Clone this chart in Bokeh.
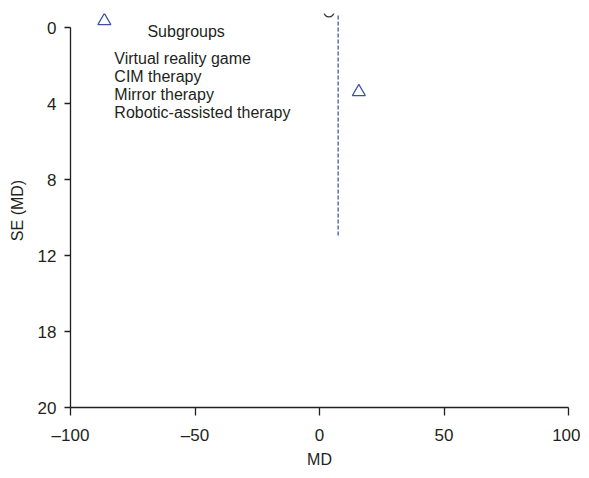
from bokeh.plotting import figure
from bokeh.models import Range1d, FixedTicker, Label, ColumnDataSource
from bokeh.embed import file_html
from bokeh.resources import INLINE

# ---- data ----
study_md = [-86.4, 15.8]
study_se = [-0.35, 3.39]
pooled_md = 3.8
pooled_se = -0.82
summary_md = 7.5
summary_se_top = -0.63
summary_se_bottom = 11.05
legend_title = "Subgroups"
subgroups = ["Virtual reality game", "CIM therapy", "Mirror therapy", "Robotic-assisted therapy"]
x_ticks = [-100, -50, 0, 50, 100]
x_tick_labels = ["\u2013100", "\u201350", "0", "50", "100"]
y_ticks = [0, 4, 8, 12, 16, 20]
y_tick_labels = ["0", "4", "8", "12", "18", "20"]

FONT = "Liberation Sans"
TXT = "#231f20"
BLUE = "#3d4fa6"

p = figure(width=580, height=470, output_backend="svg", toolbar_location=None,
           x_range=Range1d(-100, 100), y_range=Range1d(20, -0.737),
           min_border_left=70, min_border_right=12, min_border_top=13, min_border_bottom=63)
p.frame_width = 498
p.frame_height = 394
p.grid.visible = False
p.outline_line_color = None
p.background_fill_color = "white"
p.border_fill_color = "white"

for ax in (p.xaxis[0], p.yaxis[0]):
    ax.axis_line_color = TXT
    ax.axis_line_width = 1.3
    ax.major_tick_line_color = TXT
    ax.major_tick_line_width = 1.3
    ax.major_tick_in = 0
    ax.minor_tick_line_color = None
    ax.major_label_text_font = FONT
    ax.major_label_text_font_size = "17px"
    ax.major_label_text_color = TXT
    ax.axis_label_text_font = FONT
    ax.axis_label_text_font_size = "16px"
    ax.axis_label_text_font_style = "normal"
    ax.axis_label_text_color = TXT

p.xaxis.ticker = FixedTicker(ticks=x_ticks)
p.xaxis.major_label_overrides = {t: l for t, l in zip(x_ticks, x_tick_labels)}
p.xaxis.major_tick_out = 8
p.xaxis.major_label_standoff = 10
p.xaxis.axis_label = "MD"
p.xaxis.axis_label_standoff = 3

p.yaxis.ticker = FixedTicker(ticks=y_ticks)
p.yaxis.major_label_overrides = {t: l for t, l in zip(y_ticks, y_tick_labels)}
p.yaxis.bounds = (0, 20)
p.yaxis.major_tick_out = 6
p.yaxis.major_label_standoff = 8
p.yaxis.axis_label = "SE (MD)"
p.yaxis.axis_label_standoff = 9

# summary dashed line
p.segment(x0=[summary_md], y0=[summary_se_top], x1=[summary_md], y1=[summary_se_bottom],
          line_color="#5a6cc0", line_width=1.5, line_dash="4 2")

# studies
src = ColumnDataSource(dict(x=study_md, y=study_se))
p.scatter("x", "y", source=src, marker="triangle", size=13, fill_color=None,
          line_color=BLUE, line_width=1.2)
p.scatter(x=[pooled_md], y=[pooled_se], marker="circle", size=10, fill_color=None,
          line_color="#333333", line_width=1.2)

# legend text
p.add_layout(Label(x=-69.1, y=0.21, text=legend_title, text_font=FONT,
                   text_font_size="16px", text_color=TXT, text_baseline="middle"))
for i, name in enumerate(subgroups):
    p.add_layout(Label(x=-82.4, y=1.63 + i * 0.947, text=name, text_font=FONT,
                       text_font_size="16px", text_color=TXT, text_baseline="middle"))

open("out.html", "w").write(file_html(p, INLINE))
